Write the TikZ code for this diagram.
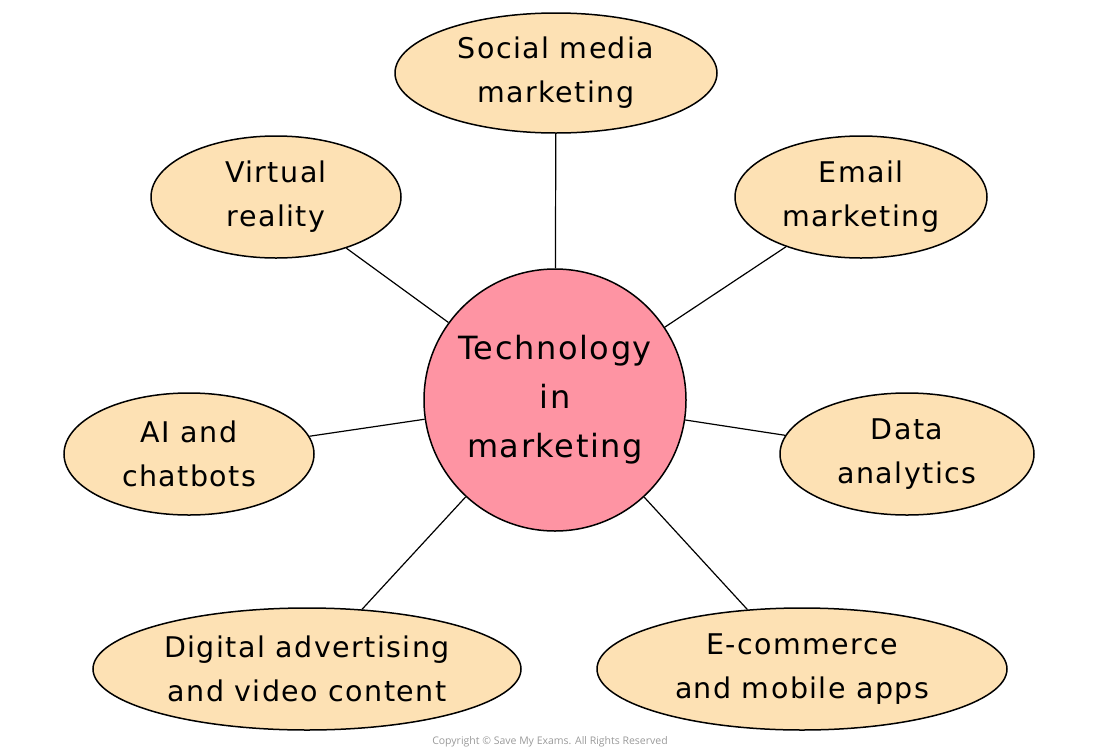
\documentclass[tikz,border=0pt]{standalone}
\usepackage{fontspec}
\setmainfont{DejaVu Sans}[LetterSpace=5]
\newfontfamily\copyfont{Open Sans}
\usetikzlibrary{shapes.geometric}
\definecolor{peach}{HTML}{FDE1B4}
\definecolor{pinkc}{HTML}{FE94A3}
\definecolor{copygray}{HTML}{9A9A9A}
\tikzset{
  topic/.style={ellipse, draw=black, line width=1.5pt, fill=peach, inner sep=0pt,
    align=center, font=\fontsize{28.5}{44}\selectfont},
  hub/.style={circle, draw=black, line width=1.5pt, fill=pinkc, inner sep=0pt,
    minimum size=262pt, align=center, font=\fontsize{32}{49}\selectfont},
  link/.style={draw=black, line width=1.2pt}
}
\begin{document}
\begin{tikzpicture}[x=1pt,y=-1pt]
\useasboundingbox (0,0) rectangle (1101,753);
\node[hub] (c) at (555,400) {Technology\\in\\marketing};
\node[topic, minimum width=322pt, minimum height=120pt] (sm) at (556,73) {Social media\\marketing};
\node[topic, minimum width=250pt, minimum height=122pt] (vr) at (276,197) {Virtual\\reality};
\node[topic, minimum width=252pt, minimum height=122pt] (em) at (861,197) {Email\\marketing};
\node[topic, minimum width=250pt, minimum height=122pt] (ai) at (189,454) {AI and\\chatbots};
\node[topic, minimum width=254pt, minimum height=122pt] (da) at (907,454) {Data\\analytics};
\node[topic, minimum width=428pt, minimum height=122pt] (dv) at (307,669) {Digital advertising\\and video content};
\node[topic, minimum width=410pt, minimum height=122pt] (ec) at (802,669) {E-commerce\\and mobile apps};
\draw[link] (c) -- (sm);
\draw[link] (c) -- (vr);
\draw[link] (c) -- (em);
\draw[link] (c) -- (ai);
\draw[link] (c) -- (da);
\draw[link] (c) -- (dv);
\draw[link] (c) -- (ec);
\node[text=copygray, font=\copyfont\fontsize{10.5}{12}\selectfont] (cr) at (550,742) {Copyright © Save My Exams. All Rights Reserved};
\end{tikzpicture}
\end{document}
